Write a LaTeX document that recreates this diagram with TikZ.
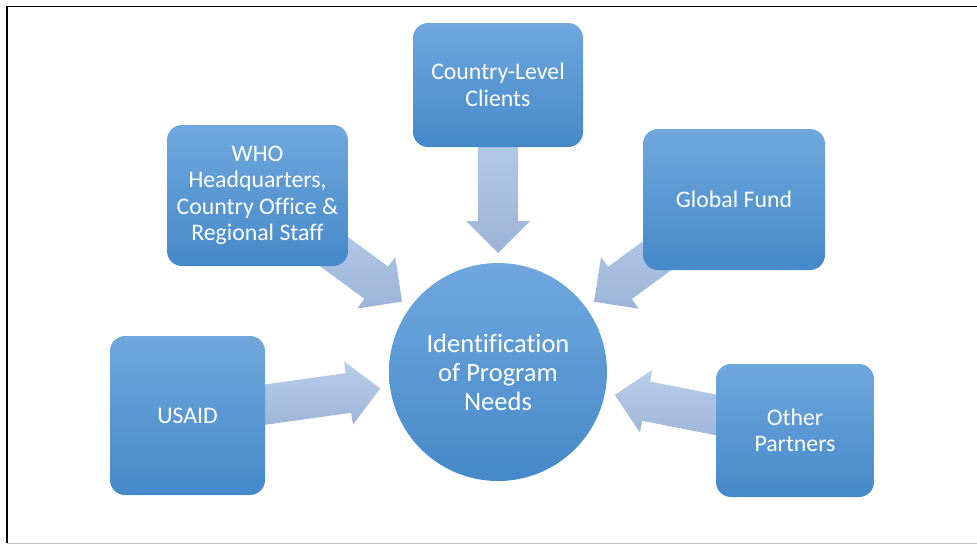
\documentclass[tikz,border=0pt]{standalone}
\usepackage{fontspec}
\setmainfont[Ligatures=NoCommon]{Carlito}
\usetikzlibrary{calc,backgrounds}

\definecolor{boxtop}{HTML}{6FA7DD}
\definecolor{boxbot}{HTML}{4589C9}
\definecolor{arrtop}{HTML}{B9CEEB}
\definecolor{arrbot}{HTML}{9CB4D8}
\definecolor{framegray}{HTML}{BFBFBF}

% Block arrow from coordinate #1 (tail) to coordinate #2 (tip):
% shaft half-width 20, head half-width 32, head length 32.
\newcommand{\blockarrow}[2]{%
  \coordinate (#2n) at ($(#2)!32pt!(#1)$);
  \shade[top color=arrtop, bottom color=arrbot]
    ($(#1)!20pt!90:(#2)$) --
    ($(#2n)!20pt!-90:(#1)$) --
    ($(#2n)!32pt!-90:(#1)$) --
    (#2) --
    ($(#2n)!32pt!90:(#1)$) --
    ($(#2n)!20pt!90:(#1)$) --
    ($(#1)!20pt!-90:(#2)$) -- cycle;}

\tikzset{
  unitbox/.style={rounded corners=15pt, top color=boxtop, bottom color=boxbot,
    text=white, align=center, inner sep=0pt,
    font=\fontsize{23.8}{26.5}\selectfont},
  hubnode/.style={circle, top color=boxtop, bottom color=boxbot,
    text=white, align=center, inner sep=0pt, minimum size=218pt,
    font=\fontsize{26.5}{29}\selectfont},
}

\begin{document}
\begin{tikzpicture}[x=1pt, y=-1pt]
  \useasboundingbox (0,0) rectangle (977,544);

  % page frame
  \draw[line width=1.5pt] (977,6.5) -- (6.8,6.5) -- (6.8,543.2);
  \draw[framegray, line width=1pt] (6.8,543) -- (977,543);

  % central hub
  \node[hubnode] (hub) at (498,372) {Identification\\of Program\\Needs};

  % surrounding sources
  \node[unitbox, minimum width=170pt, minimum height=124pt] (country) at (498,85)
    {Country-Level\\Clients};
  \node[unitbox, minimum width=181pt, minimum height=141pt] (who) at (257.5,195.5)
    {WHO\\Headquarters,\\Country Office \&\\Regional Staff};
  \node[unitbox, minimum width=182pt, minimum height=141pt] (gf) at (734,199.5)
    {Global Fund};
  \node[unitbox, minimum width=155pt, minimum height=159pt] (usaid) at (187.5,415.5)
    {USAID};
  \node[unitbox, minimum width=158pt, minimum height=133pt] (other) at (795,430.5)
    {Other\\Partners};

  % arrow tails (hidden behind the boxes) and tips (just short of the hub)
  \foreach \src in {country,who,gf,usaid,other}{
    \coordinate (\src s) at ($(hub)!260pt!(\src)$);
    \coordinate (\src t) at ($(hub)!119pt!(\src)$);
  }

  \begin{scope}[on background layer]
    \blockarrow{countrys}{countryt}
    \blockarrow{whos}{whot}
    \blockarrow{gfs}{gft}
    \blockarrow{usaids}{usaidt}
    \blockarrow{others}{othert}
  \end{scope}
\end{tikzpicture}
\end{document}
